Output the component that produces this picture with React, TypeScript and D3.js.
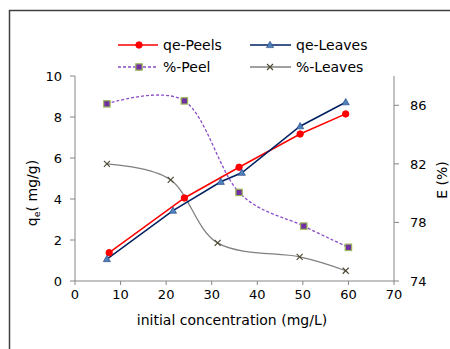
import React from "react";
import * as d3 from "d3";

const peelsX = [7.5, 24, 36, 49.4, 59.4];
const peelsQe = [1.38, 4.05, 5.55, 7.17, 8.15];
const leavesX = [7, 21.5, 32, 36.6, 49.4, 59.4];
const leavesQe = [1.07, 3.43, 4.84, 5.28, 7.55, 8.72];
const peelPctX = [7, 24, 36, 50.2, 60];
const peelPct = [86.1, 86.3, 80.05, 77.75, 76.3];
const leavesPctX = [7, 21, 31.3, 49.3, 59.4];
const leavesPct = [82.0, 80.9, 76.6, 75.65, 74.7];

const xTicks = [0, 10, 20, 30, 40, 50, 60, 70];
const yLeftTicks = [0, 2, 4, 6, 8, 10];
const yRightTicks = [74, 78, 82, 86];

const FONT = "DejaVu Sans";

export default function App() {
  const x = d3.scaleLinear().domain([0, 70]).range([75, 394]);
  const yL = d3.scaleLinear().domain([0, 10]).range([281, 76]);
  const yR = d3.scaleLinear().domain([74, 88]).range([281, 76]);
  const axisCol = "#868686";

  const lin = d3.line<[number, number]>().x((d) => d[0]).y((d) => d[1]);
  const smooth = d3
    .line<[number, number]>()
    .x((d) => d[0])
    .y((d) => d[1])
    .curve(d3.curveCardinal.tension(0));

  const pPts: [number, number][] = peelsX.map((v, i) => [x(v), yL(peelsQe[i])]);
  const lPts: [number, number][] = leavesX.map((v, i) => [x(v), yL(leavesQe[i])]);
  const ppPts: [number, number][] = peelPctX.map((v, i) => [x(v), yR(peelPct[i])]);
  const lpPts: [number, number][] = leavesPctX.map((v, i) => [x(v), yR(leavesPct[i])]);

  const circle = (cx: number, cy: number, k: string | number) => (
    <circle key={k} cx={cx} cy={cy} r={3.2} fill="#ff0000" stroke="#ff0000" />
  );
  const tri = (cx: number, cy: number, k: string | number) => (
    <path
      key={k}
      d={`M${cx},${cy - 3.8}L${cx + 3.6},${cy + 2.6}L${cx - 3.6},${cy + 2.6}Z`}
      fill="#4f81bd"
      stroke="#1f3f7a"
      strokeWidth={0.6}
    />
  );
  const sq = (cx: number, cy: number, k: string | number) => (
    <rect
      key={k}
      x={cx - 3.2}
      y={cy - 3.2}
      width={6.4}
      height={6.4}
      fill="#7030a0"
      stroke="#9bbb59"
      strokeWidth={1.2}
    />
  );
  const cross = (cx: number, cy: number, k: string | number) => (
    <path
      key={k}
      d={`M${cx - 3},${cy - 3}L${cx + 3},${cy + 3}M${cx + 3},${cy - 3}L${cx - 3},${cy + 3}`}
      stroke="#4a4630"
      strokeWidth={1.1}
      fill="none"
    />
  );

  return (
    <svg
      width={450}
      height={349}
      style={{ position: "absolute", left: 0, top: 0 }}
      fontFamily={FONT}
    >
      <rect x={0} y={0} width={450} height={349} fill="#fff" />
      <rect x={9.5} y={10.5} width={460} height={360} fill="none" stroke="#404040" strokeWidth={1.5} />

      {/* axes */}
      <line x1={75} x2={75} y1={76} y2={281} stroke={axisCol} />
      <line x1={394} x2={394} y1={76} y2={281} stroke={axisCol} />
      <line x1={75} x2={394} y1={281} y2={281} stroke={axisCol} />
      {xTicks.map((t) => (
        <g key={"xt" + t}>
          <line x1={x(t)} x2={x(t)} y1={281} y2={285} stroke={axisCol} />
          <text x={x(t)} y={299} textAnchor="middle" fontSize={13} fill="#000">
            {t}
          </text>
        </g>
      ))}
      {yLeftTicks.map((t) => (
        <g key={"yl" + t}>
          <line x1={70} x2={75} y1={yL(t)} y2={yL(t)} stroke={axisCol} />
          <text x={62} y={yL(t) + 5} textAnchor="end" fontSize={13} fill="#000">
            {t}
          </text>
        </g>
      ))}
      {yRightTicks.map((t) => (
        <g key={"yr" + t}>
          <line x1={394} x2={399} y1={yR(t)} y2={yR(t)} stroke={axisCol} />
          <text x={410} y={yR(t) + 5} textAnchor="start" fontSize={13} fill="#000">
            {t}
          </text>
        </g>
      ))}

      <text x={232} y={325} textAnchor="middle" fontSize={14} fill="#000">
        initial concentration (mg/L)
      </text>
      <text transform="translate(37,193) rotate(-90)" textAnchor="middle" fontSize={14} fill="#000">
        q<tspan fontSize={9.5} dy={3}>e</tspan>
        <tspan dy={-3}>( mg/g)</tspan>
      </text>
      <text transform="translate(447,180) rotate(-90)" textAnchor="middle" fontSize={14} fill="#000">
        E (%)
      </text>

      {/* series */}
      <path d={smooth(ppPts) || ""} fill="none" stroke="#8a4cc8" strokeWidth={1.3} strokeDasharray="3,2" />
      <path d={smooth(lpPts) || ""} fill="none" stroke="#808080" strokeWidth={1.3} />
      <path d={lin(pPts) || ""} fill="none" stroke="#ff0000" strokeWidth={1.5} />
      <path d={lin(lPts) || ""} fill="none" stroke="#002060" strokeWidth={1.5} />
      {ppPts.map((p, i) => sq(p[0], p[1], "pp" + i))}
      {lpPts.map((p, i) => cross(p[0], p[1], "lp" + i))}
      {pPts.map((p, i) => circle(p[0], p[1], "p" + i))}
      {lPts.map((p, i) => tri(p[0], p[1], "l" + i))}

      {/* legend */}
      <line x1={118} x2={158} y1={45} y2={45} stroke="#ff0000" strokeWidth={1.5} />
      {circle(139, 45, "lg1")}
      <text x={163} y={50} fontSize={14} fill="#000">qe-Peels</text>
      <line x1={250} x2={291} y1={45} y2={45} stroke="#002060" strokeWidth={1.5} />
      {tri(270, 45, "lg2")}
      <text x={296} y={50} fontSize={14} fill="#000">qe-Leaves</text>
      <line x1={118} x2={158} y1={67} y2={67} stroke="#8a4cc8" strokeWidth={1.3} strokeDasharray="3,2" />
      {sq(139, 67, "lg3")}
      <text x={163} y={72} fontSize={14} fill="#000">%-Peel</text>
      <line x1={250} x2={291} y1={67} y2={67} stroke="#808080" strokeWidth={1.3} />
      {cross(270, 67, "lg4")}
      <text x={296} y={72} fontSize={14} fill="#000">%-Leaves</text>
    </svg>
  );
}
